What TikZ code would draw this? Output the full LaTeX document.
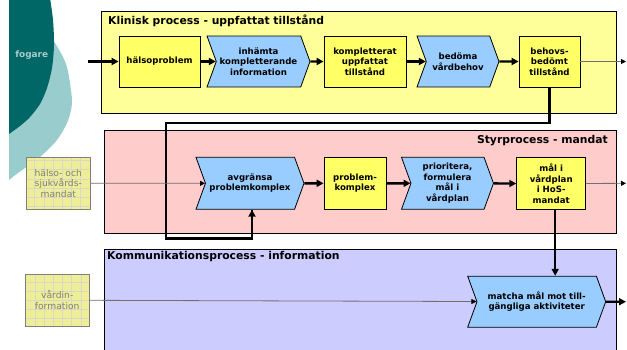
\documentclass[tikz,border=0pt]{standalone}
\usepackage{fontspec}
\setmainfont{DejaVu Sans}
\usetikzlibrary{shapes.symbols,arrows.meta,calc}

\definecolor{tealdark}{HTML}{006666}
\definecolor{teallight}{HTML}{99CCCC}
\definecolor{fogaretext}{HTML}{A8CCCC}
\definecolor{panelyellow}{HTML}{FFFF99}
\definecolor{panelpink}{HTML}{FFCCCC}
\definecolor{panelviolet}{HTML}{CCCCFF}
\definecolor{stateyellow}{HTML}{FFFF66}
\definecolor{actblue}{HTML}{99CCFF}
\definecolor{inputfill}{HTML}{EEEE99}
\definecolor{inputgrid}{HTML}{D8D8C4}
\definecolor{inputtext}{HTML}{808080}
\definecolor{thinline}{HTML}{707070}

\tikzset{
  panel/.style={draw=black, line width=0.8pt},
  paneltitle/.style={font=\bfseries\fontsize{10.8}{12}\selectfont, inner sep=0pt},
  statebox/.style={draw=black, line width=0.8pt, fill=stateyellow, align=center,
    inner sep=0pt, font=\bfseries\fontsize{8.6}{10.5}\selectfont},
  actbox/.style={signal, signal to=east, signal from=west, signal pointer angle=140,
    draw=black, line width=0.8pt, fill=actblue, align=center, inner sep=0pt,
    font=\bfseries\fontsize{8.6}{10.5}\selectfont},
  inputbox/.style={draw=inputtext, line width=0.8pt, fill=inputfill, align=center,
    inner sep=0pt, text=inputtext, font=\fontsize{9.2}{10.5}\selectfont,
    path picture={\draw[inputgrid, line width=0.5pt]
      (path picture bounding box.south west) grid[step=9.2pt]
      (path picture bounding box.north east);}},
  flow/.style={line width=2.4pt, -{Triangle[length=7pt,width=7pt]}},
  feedback/.style={line width=2.4pt},
  thinflow/.style={draw=thinline, line width=0.8pt, -{Triangle[length=5pt,width=5pt,color=black]}}
}

\begin{document}
\begin{tikzpicture}[x=1pt,y=-1pt]
\useasboundingbox (0,0) rectangle (627,349);

% decorative discs on the left edge
\fill[teallight] (9,40) -- (50,40) -- plot[smooth] coordinates {(55,43) (62,55) (67,67) (70,83)
  (72,100) (71,110) (67,123) (57,140) (40,157) (18,173) (9,180)} -- cycle;
\fill[tealdark] (9,-2) -- plot[smooth] coordinates {(50,-2) (53,20) (54,45) (52,68) (47,88)
  (40,104) (30,117) (20,126) (9,134)} -- cycle;
\node[text=fogaretext, font=\bfseries\fontsize{8.9}{10}\selectfont] (fog) at (31.7,55) {fogare};

% process panels
\draw[panel, fill=panelyellow] (101,11) rectangle (616,113);
\draw[panel, fill=panelpink] (104,130) rectangle (616,233);
\draw[panel, fill=panelviolet] (104,249) rectangle (616,355);
\node[paneltitle, anchor=base west] (tk) at (108,24.5) {Klinisk process - uppfattat tillstånd};
\node[paneltitle, anchor=base east] (ts) at (608,143.5) {Styrprocess - mandat};
\node[paneltitle, anchor=base west] (tc) at (107,259.5) {Kommunikationsprocess - information};

% clinical process
\node[statebox, minimum width=81pt, minimum height=51pt] (hp) at (159.5,61.5) {hälsoproblem};
\node[actbox, minimum width=103pt, minimum height=51pt] (inh) at (258.5,61.5) {inhämta\\kompletterande\\information};
\node[statebox, minimum width=82pt, minimum height=51pt] (komp) at (365,61.5) {kompletterat\\uppfattat\\tillstånd};
\node[actbox, minimum width=82pt, minimum height=51pt] (bed) at (458,61.5) {bedöma\\vårdbehov};
\node[statebox, minimum width=61pt, minimum height=51pt] (beh) at (549.5,61.5) {behovs-\\bedömt\\tillstånd};

% steering process
\node[actbox, minimum width=108pt, minimum height=52pt] (avg) at (250,183.3) {avgränsa\\problemkomplex};
\node[statebox, minimum width=62pt, minimum height=52pt] (pk) at (355,183.3) {problem-\\komplex};
\node[actbox, minimum width=92pt, minimum height=52pt] (pri) at (447.5,183.3) {prioritera,\\formulera\\mål i\\vårdplan};
\node[statebox, minimum width=69pt, minimum height=52.5pt] (mal) at (551.2,183.6) {mål i\\vårdplan\\i HoS-\\mandat};

% communication process
\node[actbox, minimum width=138pt, minimum height=51pt] (mat) at (536.7,301.7) {matcha mål mot till-\\gängliga aktiviteter};

% inputs
\node[inputbox, minimum width=64.7pt, minimum height=52pt] (hsm) at (58.3,183.3) {hälso- och\\sjukvårds-\\mandat};
\node[inputbox, minimum width=64.3pt, minimum height=51.7pt] (vi) at (57.2,300.2) {vårdin-\\formation};

% loose ends
\coordinate (inA) at (88,61.5);
\coordinate (outA) at (626,61.5);
\coordinate (outB) at (626,183.3);
\coordinate (outC) at (626,301.7);
\coordinate (loopA) at (166,122.7);
\coordinate (loopB) at (166,238.5);

% connectors
\draw[flow] (inA) -- (hp);
\draw[flow] (hp) -- (inh);
\draw[flow] (inh) -- (komp);
\draw[flow] (komp) -- (bed);
\draw[flow] (bed) -- (beh);
\draw[thinflow] (beh) -- (outA);
\draw[feedback] (beh.south) |- (loopA) -- (loopB) -| ([xshift=2pt]avg.south);
\draw[flow] ([xshift=2pt]avg.south |- loopB) -- ([xshift=2pt]avg.south);
\draw[flow] (avg) -- (pk);
\draw[flow] (pk) -- (pri);
\draw[flow] (pri) -- (mal);
\draw[thinflow] (mal) -- (outB);
\draw[thinflow] (hsm) -- (avg);
\draw[flow] ([xshift=4pt]mal.south) -- ([xshift=4pt]mal.south |- mat.north);
\draw[thinflow] (vi) -- (mat);
\draw[flow] (mat) -- (outC);
\end{tikzpicture}
\end{document}
